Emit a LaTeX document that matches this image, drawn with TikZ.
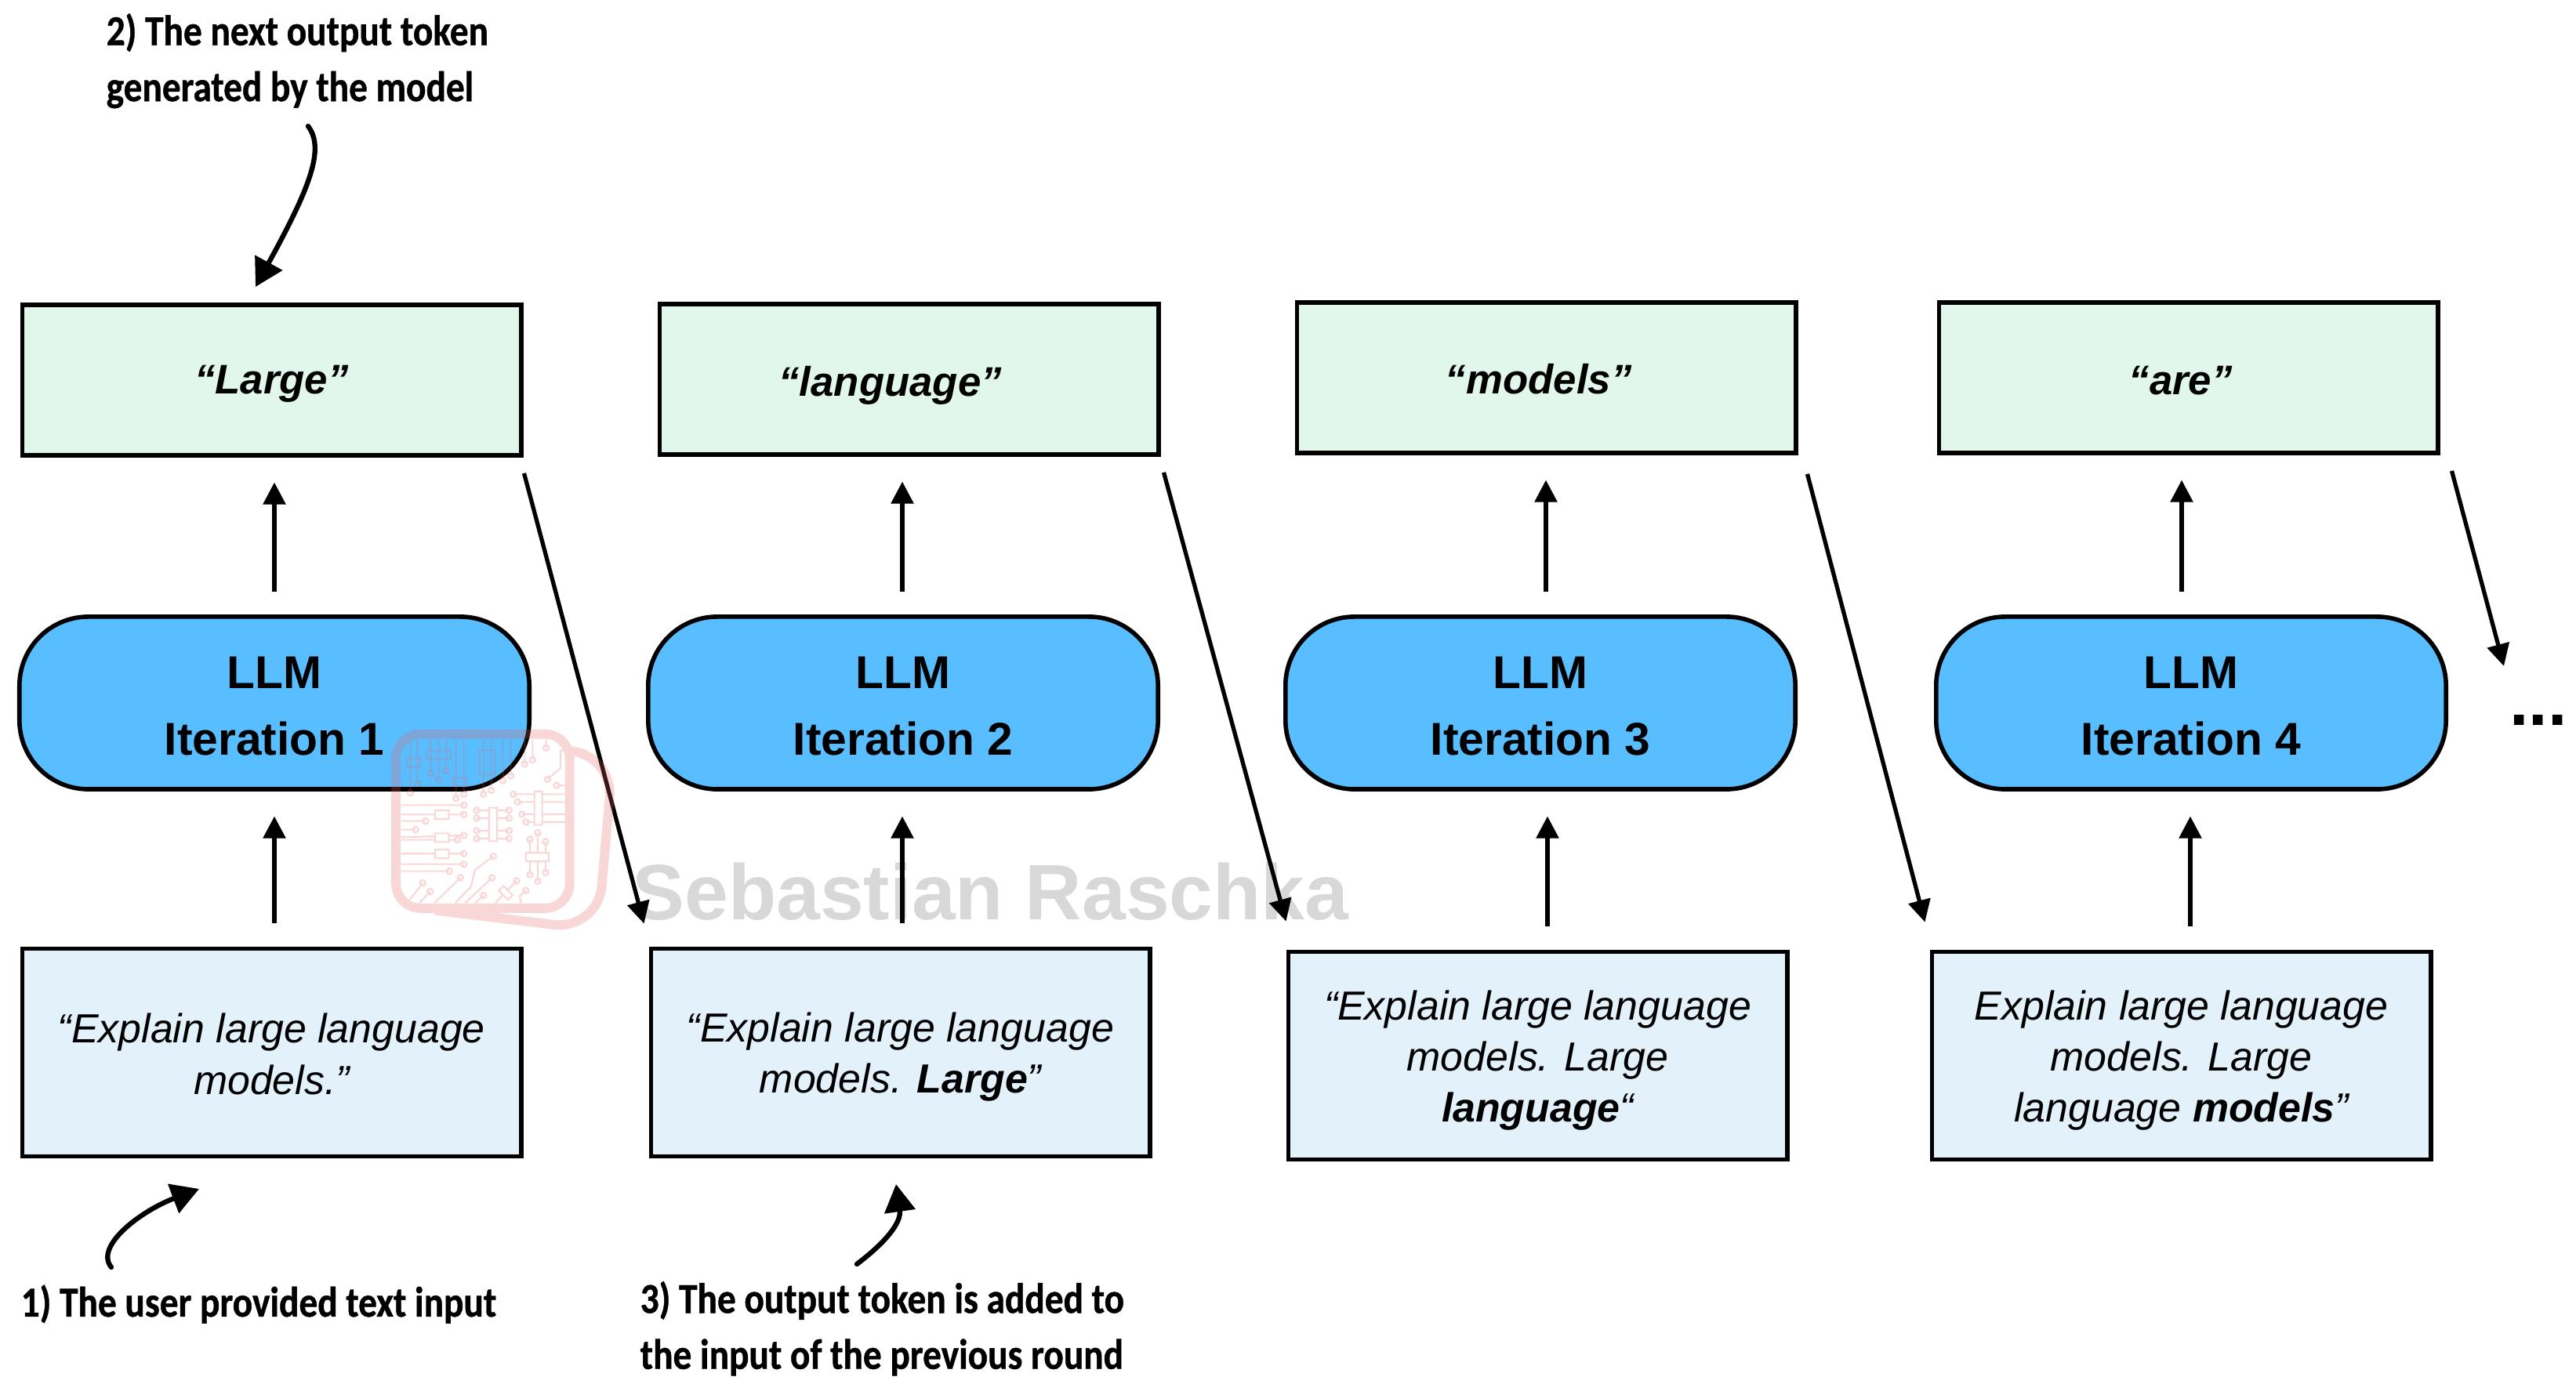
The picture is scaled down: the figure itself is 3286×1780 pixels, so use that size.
\documentclass[tikz,border=0pt]{standalone}
\usepackage{fontspec}
\setmainfont{Liberation Sans}
\newfontfamily\notefont[FakeStretch=0.868,FakeBold=0.8]{Carlito}
\usetikzlibrary{arrows.meta, positioning}
\definecolor{outfill}{HTML}{E2F7EC}
\definecolor{infill}{HTML}{E3F1FB}
\definecolor{llmfill}{HTML}{58BEFF}
\definecolor{logored}{RGB}{236,96,96}
\definecolor{markgray}{RGB}{216,216,216}
\newcommand{\up}[1]{\rule{0pt}{#1}}

\begin{document}
\begin{tikzpicture}
        [x=0.01cm, y=-0.01cm,
        outbox/.style={rectangle, draw, line width=1.6pt, fill=outfill,
        minimum width=6.36cm, minimum height=1.92cm, inner sep=0pt,
        font=\fontsize{15}{18.5}\selectfont\bfseries\itshape},
        inbox/.style={rectangle, draw, line width=1.6pt, fill=infill,
        minimum width=6.36cm, minimum height=2.65cm, inner sep=0pt, align=center,
        font=\fontsize{14.75}{18.5}\selectfont\itshape},
        llm/.style={rectangle, draw, line width=1.6pt, fill=llmfill, rounded corners=25pt,
        minimum width=6.5cm, minimum height=2.2cm, inner sep=0pt, align=center,
        font=\fontsize{16.7}{24.3}\selectfont\bfseries},
        note/.style={inner sep=0pt, align=left,
        font=\fontsize{15.5}{20.3}\selectfont\notefont\bfseries},
        line/.style={draw, line width=1.5pt, -{Triangle[length=8pt,width=8pt]}},
        curved/.style={draw, line width=1.8pt, line cap=round, -{Triangle[length=10pt,width=11pt]}}]
        \useasboundingbox (0,0) rectangle (3286,1780);
        % watermark text
        \node [anchor=base west, inner sep=0pt, text=markgray, font=\fontsize{28.5}{30}\selectfont\bfseries]
            (mark) at (806,1174) {Sebastian Raschka};
        % row 1
        \node [outbox] (out1) at (346.5,485) {\up{12.8pt}“Large”};
        \node [outbox] (out2) at (1159.5,484) {\up{15.1pt}“language”\hspace*{13.6pt}};
        \node [outbox] (out3) at (1972.5,482) {\up{11.7pt}“models”\hspace*{5.6pt}};
        \node [outbox] (out4) at (2791.5,482) {\up{12.2pt}“are”\hspace*{5.6pt}};
        % row 2
        \node [llm] (llm1) at (350,897) {\up{13.8pt}LLM\\Iteration 1};
        \node [llm] (llm2) at (1152,897) {\up{13.8pt}LLM\\Iteration 2};
        \node [llm] (llm3) at (1965,897) {\up{13.8pt}LLM\\Iteration 3};
        \node [llm] (llm4) at (2795,897) {\up{13.8pt}LLM\\Iteration 4};
        % row 3
        \node [inbox] (in1) at (346.5,1343) {\up{11.8pt}“Explain large language\\models.”};
        \node [inbox] (in2) at (1148.5,1343) {\up{14.1pt}“Explain large language\\models. \textbf{Large}”};
        \node [inbox] (in3) at (1961.5,1347) {\up{14.1pt}“Explain large language\\models. Large\\\textbf{language}“};
        \node [inbox] (in4) at (2782.5,1347) {\up{14.1pt}Explain large language\\models. Large\\language \textbf{models}”};
        % the rest
        \node [anchor=base, inner sep=0pt, font=\fontsize{25}{25}\selectfont\bfseries] (more) at (3238,926) {...};
        \coordinate (next) at (3194,850);
        \node [note, anchor=base west] (note1) at (26,1680) {1) The user provided text input};
        \node [note, anchor=south west] (note2) at (135,139) {2) The next output token\\generated by the model};
        \node [note, anchor=south west] (note3) at (816,1756) {3) The output token is added to\\the input of the previous round};
        \coordinate (note1s) at (142,1617);
        \coordinate (note1e) at (254,1517);
        \coordinate (note2s) at (393,161);
        \coordinate (note2e) at (326,366);
        \coordinate (note3s) at (1093,1613);
        \coordinate (note3e) at (1143,1511);
        \begin{scope}[every path/.style=line]
            \foreach \i/\xa/\xb in {1/350/350, 2/1151/1151, 3/1974/1972, 4/2794/2783} {
                \path [shorten <=8.3pt, shorten >=9pt] (\xa,0 |- in\i.north) -- (\xa,0 |- llm\i.south);
                \path [shorten <=8.3pt, shorten >=9pt] (\xb,0 |- llm\i.north) -- (\xb,0 |- out\i.south);
            }
            \path ([shift={(1,20)}]out1.south east) -- ([shift={(-6,-29)}]in2.north west);
            \path ([shift={(4,20)}]out2.south east) -- ([shift={(0,-36)}]in3.north west);
            \path ([shift={(12,24)}]out3.south east) -- ([shift={(-6,-35)}]in4.north west);
            \path ([shift={(15,20)}]out4.south east) -- (next);
        \end{scope}
        \begin{scope}[every path/.style=curved]
            \path (note1s) .. controls (120,1590) and (180,1545) .. (note1e);
            \path (note2s) .. controls (415,190) and (395,240) .. (note2e);
            \path (note3s) .. controls (1130,1585) and (1150,1560) .. (note3e);
        \end{scope}
        % logo, coordinates of a 3x crop
        \begin{scope}[shift={(480,900)}, xscale=0.3333, yscale=0.3333, transparency group, opacity=0.25,
            draw=logored, trace/.style={draw=logored, line width=0.6pt}, pad/.style={draw=logored, line width=0.6pt}]
            \draw [draw=logored, line width=3.4pt, rounded corners=9pt] (75,110) rectangle (740,777);
            \draw [draw=logored, line width=3.4pt, rounded corners=16pt] (750,175) -- (908,186) -- (848,860) -- (225,785);
            % left side traces
            \foreach \xe/\ye in {335/382, 189/443, 150/476, 335/608, 280/635} {
                \draw [trace] (95,\ye) -- (\xe,\ye);
                \draw [pad] (\xe,\ye) circle (11);
            }
            \foreach \ya/\xe/\ye in {418/335/418, 505/335/498, 515/310/515, 568/335/568} {
                \draw [trace] (95,\ya) -- (\xe,\ye);
                \draw [pad] (\xe,\ye) circle (11);
            }
            \foreach \ya/\yb in {402/435, 490/523, 552/585} {
                \draw [pad, fill=white] (225,\ya) rectangle (277,\yb);
            }
            % chips
            \foreach \y in {402, 432, 480, 510} {
                \draw [trace] (384,\y) -- (508,\y);
                \draw [pad] (384,\y) circle (11);
                \draw [pad] (508,\y) circle (11);
            }
            \draw [pad, fill=white] (432,392) rectangle (462,520);
            \foreach \xe/\y in {525/340, 541/370, 557/417, 573/447} {
                \draw [trace] (\xe,\y) -- (722,\y);
                \draw [pad] (\xe,\y) circle (11);
            }
            \draw [pad, fill=white] (605,330) rectangle (635,458);
            \foreach \xe/\ya/\yb in {588/513/648, 618/488/673, 648/522/640} {
                \draw [trace] (\xe,\ya) -- (\xe,\yb);
                \draw [pad] (\xe,\ya) circle (11);
                \draw [pad] (\xe,\yb) circle (11);
            }
            \draw [pad, fill=white] (573,565) rectangle (660,597);
            % diagonals
            \foreach \xa/\xe/\ye in {118/178/680, 165/206/713, 222/322/660, 340/443/660, 378/410/728} {
                \draw [trace] (\xa,757) -- (\xe,\ye);
                \draw [pad] (\xe,\ye) circle (11);
            }
            \draw [trace] (302,757) -- (362,695) -- (378,630) -- (448,578);
            \draw [pad] (448,578) circle (11);
            \draw [trace] (455,757) -- (537,672);
            \draw [pad] (537,672) circle (11);
            \draw [pad, fill=white, rotate around={-45:(495,718)}] (470,705) rectangle (520,731);
            \draw [trace] (555,757) -- (548,730) -- (572,709);
            \draw [pad] (572,709) circle (11);
            % top traces
            \foreach \xe/\ye in {130/335, 158/300, 208/260, 238/285, 268/250, 305/355, 335/340, 410/340, 440/325, 485/288, 515/270, 568/225, 598/208, 650/163} {
                \draw [trace] (\xe,130) -- (\xe,\ye);
                \draw [pad] (\xe,\ye) circle (11);
            }
            \draw [pad] (117,203) rectangle (170,235);
            \draw [pad] (193,173) rectangle (285,205);
            \draw [pad] (292,278) rectangle (345,310);
            \draw [pad] (395,172) rectangle (455,265);
            \draw [trace] (722,172) -- (705,172) -- (705,240) -- (655,283);
            \draw [pad] (655,283) circle (11);
            \draw [trace] (722,307) -- (690,307);
            \draw [pad] (690,307) circle (11);
        \end{scope}
    \end{tikzpicture}
\end{document}
